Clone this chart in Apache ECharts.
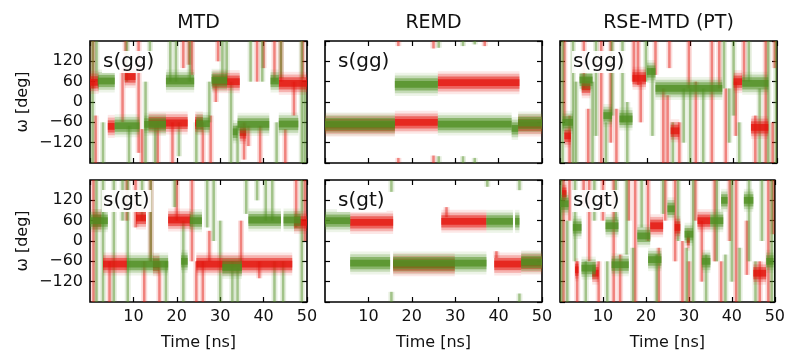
<!DOCTYPE html>
<html><head><meta charset="utf-8">
<script src="https://cdn.jsdelivr.net/npm/echarts@6/dist/echarts.min.js"></script>
<style>html,body{margin:0;padding:0;background:#fff}#c{width:788px;height:353px}</style>
</head><body><div id="c"></div>
<script>
// ---- labels / ticks ----
const panelTitles = ['MTD', 'REMD', 'RSE-MTD (PT)'];
const rowLabels = ['s(gg)', 's(gt)'];
const xTicks = [0, 10, 20, 30, 40, 50];
const yTicks = [-180, -120, -60, 0, 60, 120, 180];

// ---- data: bands [t0 (ns), t1 (ns), omega centre (deg)], streaks [t (ns), omega a, omega b] ----
// MTD s(gg)
const mtdGgRedBands = [[0,2,58],[4.1,5.7,-72],[8,10.5,75],[13.5,22.5,-62],[24.2,26,-62],[28.2,34.5,60],[34.5,36,-90],[43.5,50,55]];
const mtdGgGreenBands = [[1.8,5.7,62],[5.7,11.4,-70],[12.5,17.5,-66],[17.5,24,62],[24.5,27.6,-64],[28,31.6,64],[32.9,34,-88],[34,41.3,-66],[41.6,43.5,62],[43.5,48,-65]];
const mtdGgRedStreaks = [[0.7,180,40],[1.3,-40,-180],[7.5,100,-60],[8.2,180,90],[11.2,180,-150],[12,-80,-180],[15.6,-60,-180],[19,-60,-180],[21.5,180,100],[22.8,180,110],[23.5,180,80],[26,-60,-180],[27.8,-40,-180],[29,60,0],[29.5,180,120],[35.5,-60,-170],[36.5,-70,-130],[38.5,180,60],[39.2,-70,-180],[40,180,100],[42.5,180,60],[44,180,60],[45,-80,-180],[47,60,-40],[49,180,70]];
const mtdGgGreenStreaks = [[0.6,180,-180],[1.5,180,60],[3,-60,-180],[8.5,180,60],[9,-70,-180],[12.8,60,-180],[13.8,180,110],[15,-70,-180],[18.5,180,60],[19.8,180,60],[20.5,-60,-160],[23,180,60],[24.5,-60,-180],[27.5,60,-60],[30.5,180,60],[31.5,180,60],[32.5,60,-180],[34,-70,-180],[37,180,60],[39.7,180,60],[43,-60,-180],[44,180,70],[48.8,180,-180],[49.5,60,-180]];
// MTD s(gt)
const mtdGtRedBands = [[0.7,2.6,60],[3,8.5,-68],[10.6,12.9,68],[14.5,16,-70],[18,23.2,62],[24.5,46.6,-68],[47,50,55]];
const mtdGtGreenBands = [[0,4.1,60],[8.5,18,-68],[21,22.5,-60],[23,25.8,60],[30.5,35,-78],[36.5,44,62],[44.6,48.5,62]];
const mtdGtRedStreaks = [[0.8,180,-180],[4.5,-60,-180],[8.5,180,60],[10.5,180,40],[12.5,-60,-180],[14,180,-60],[16,-60,-180],[20,180,60],[23.5,180,-60],[24.5,-60,-180],[26,-60,-180],[27.5,30,-60],[34.8,60,-60],[39,-60,-110],[47.5,180,40],[49.5,180,0]];
const mtdGtGreenStreaks = [[1.5,180,-180],[3,180,-180],[5.5,180,-180],[7.5,180,60],[8.7,180,-180],[12,180,60],[14,-60,180],[17.5,-60,-180],[19.5,180,100],[21.5,-180,60],[27,180,40],[28.5,180,0],[30,60,-180],[32.8,-60,-180],[34,-80,-180],[36,180,80],[38.5,180,120],[40.5,180,60],[42,180,60],[42.5,-60,-180],[44.5,-60,-180],[48.8,180,-180]];
// REMD s(gg)
const remdGgRedBands = [[0,16.1,-68],[16.1,26,-60],[26,44.8,57],[44.5,50,-68]];
const remdGgGreenBands = [[0,16.1,-65],[16.1,26,52],[26,43,-65],[43,44.5,-78],[44.5,50,-62]];
const remdGgRedStreaks = [[16.9,180,165],[16.9,-165,-180],[25,180,158],[25,-158,-180],[36.8,180,165]];
const remdGgGreenStreaks = [[26.2,180,160],[26.2,-160,-180],[31.8,180,165],[31.8,-160,-180],[34.5,180,170],[34.5,-165,-180]];
// REMD s(gt)
const remdGtRedBands = [[5.8,15.7,55],[15.7,29.9,-70],[26.8,37.2,58],[39,45.2,-68],[45.2,50,-65]];
const remdGtGreenBands = [[0,5.8,60],[5.8,15,-65],[15.7,37.2,-65],[37.2,43.3,58],[43.8,44.8,58],[45.2,50,-62]];
const remdGtRedStreaks = [[28,100,70],[39.5,-30,-50]];
const remdGtGreenStreaks = [[15.3,180,145],[15.3,-150,-180],[37.4,180,160],[44.8,180,150],[44.8,-155,-180]];
// RSE-MTD (PT) s(gg)
const rseGgRedBands = [[1,2.5,-100],[5,7,45],[16.7,19.8,70],[25.5,27.5,-85],[40,42,60],[44,48,-75]];
const rseGgGreenBands = [[0.6,3,-60],[4.5,7.5,65],[10,12,-40],[13.7,16.7,-50],[20,22,90],[22,37.4,40],[42,48,55]];
const rseGgRedStreaks = [[1,180,-60],[2.2,-40,-180],[5.5,180,40],[6.5,-20,-180],[9.5,180,-180],[11.7,180,-120],[13,-20,-180],[17,180,60],[18,180,50],[18.6,60,-60],[22,180,80],[23.8,40,-180],[24.8,20,-180],[25.2,180,100],[27.5,-60,-180],[29.7,180,40],[31.3,60,-180],[35,180,-180],[36.7,180,40],[38.2,40,-180],[40.5,60,-100],[42.4,180,60],[45,-40,-180],[47.4,180,-180],[49,-60,-180],[49.5,180,100]];
const rseGgGreenStreaks = [[0.6,180,-180],[3,180,-180],[3.7,60,-180],[7.5,60,-180],[8.3,180,-100],[10.6,-60,-180],[12,180,-40],[14.4,180,-60],[15.5,0,-180],[19.8,180,60],[21.3,100,-100],[26,-60,-180],[28.5,40,-120],[30,40,-180],[33,40,-180],[37.8,180,40],[39,40,-120],[40,180,-40],[41.3,-60,-180],[43.5,180,60],[46,40,-180],[48,180,-180],[49.8,180,-180]];
// RSE-MTD (PT) s(gt)
const rseGtRedBands = [[0.5,1.5,140],[3.5,4.3,-85],[7.5,9,-95],[21,24,45],[26.7,28,40],[29.5,30.2,5],[32,35,60],[45,48,-95]];
const rseGtGreenBands = [[0,2,110],[3,5,40],[5,8.3,-80],[10.6,13.6,45],[12,16,-70],[18,21,15],[20.5,23.6,-55],[25,26.7,95],[29,31,20],[33,35,-60],[35,38,60],[37.5,39,120],[42.8,45,120],[48,49.7,-60]];
const rseGtRedStreaks = [[0.8,180,-180],[2.2,180,60],[4,-60,-180],[5.5,180,100],[6.8,180,-60],[9,-60,-180],[10,180,60],[12.5,180,-180],[14,-40,-180],[16,180,60],[17.5,180,-180],[20.5,180,0],[23,-20,-180],[24.5,180,60],[26.8,180,-60],[28.5,0,-180],[30,-60,-180],[31.5,180,60],[33,60,-120],[36,180,-60],[37.5,-60,-180],[39.5,180,0],[41,180,-180],[43.5,60,-100],[46.5,-60,-180],[48.5,180,-180],[49.6,180,20]];
const rseGtGreenStreaks = [[0.3,180,-180],[1.7,60,-180],[3.5,180,-60],[6,-60,-180],[8,180,60],[11,-60,-180],[13,180,60],[15.5,180,-40],[17,-20,-180],[19,180,40],[22.5,-40,-180],[24,180,80],[27.5,180,0],[29.5,-20,-180],[31,180,-180],[34,-40,-180],[36.5,180,-60],[38.5,-40,-180],[40,180,-120],[41.8,-20,-180],[44,180,-60],[45.5,-60,-180],[47,180,0],[49.3,180,-180]];

const panels = [
  [mtdGgRedBands, mtdGgGreenBands, mtdGgRedStreaks, mtdGgGreenStreaks],
  [remdGgRedBands, remdGgGreenBands, remdGgRedStreaks, remdGgGreenStreaks],
  [rseGgRedBands, rseGgGreenBands, rseGgRedStreaks, rseGgGreenStreaks],
  [mtdGtRedBands, mtdGtGreenBands, mtdGtRedStreaks, mtdGtGreenStreaks],
  [remdGtRedBands, remdGtGreenBands, remdGtRedStreaks, remdGtGreenStreaks],
  [rseGtRedBands, rseGtGreenBands, rseGtRedStreaks, rseGtGreenStreaks]
];

// ---- layout / style ----
const RED = '#e3140c', GREEN = '#4f8f22';
const FONT = 'DejaVu Sans';
const colLeft = [90, 325, 560], colW = 217, rowTop = [41, 180], rowH = 122;

const chart = echarts.init(document.getElementById('c'));
const grid = [], xAxis = [], yAxis = [], series = [], graphic = [];

function clip(r, cs) {
  return echarts.graphic.clipRectByRect(r, {x: cs.x, y: cs.y, width: cs.width, height: cs.height});
}
function bandSeries(g, data, color) {
  return {
    type: 'custom', xAxisIndex: 2*g, yAxisIndex: 2*g, data: data, silent: true, animation: false,
    encode: {x: [0, 1], y: 2},
    renderItem: function (params, api) {
      const t0 = api.value(0), t1 = api.value(1), w = api.value(2), cs = params.coordSys;
      const mk = function (hw, op) {
        const a = api.coord([t0, w + hw]), b = api.coord([t1, w - hw]);
        const r = clip({x: a[0], y: a[1], width: b[0] - a[0], height: b[1] - a[1]}, cs);
        return r ? {type: 'rect', shape: r, style: {fill: color, opacity: op}} : null;
      };
      return {type: 'group', children: [mk(34, 0.1), mk(26, 0.25), mk(18, 0.5), mk(10, 0.75)].filter(Boolean)};
    }
  };
}
function streakSeries(g, data, color) {
  return {
    type: 'custom', xAxisIndex: 2*g, yAxisIndex: 2*g, data: data, silent: true, animation: false,
    encode: {x: 0, y: [1, 2]},
    renderItem: function (params, api) {
      const t = api.value(0), a = api.value(1), b = api.value(2), cs = params.coordSys;
      const p = api.coord([t, a]), q = api.coord([t, b]);
      const y0 = Math.min(p[1], q[1]), h = Math.abs(q[1] - p[1]);
      const mk = function (wd, op) {
        const r = clip({x: p[0] - wd/2, y: y0, width: wd, height: h}, cs);
        return r ? {type: 'rect', shape: r, style: {fill: color, opacity: op}} : null;
      };
      return {type: 'group', children: [mk(6, 0.15), mk(2.5, 0.45)].filter(Boolean)};
    }
  };
}
const minus = v => String(v).replace('-', '\u2212');

for (let row = 0; row < 2; row++) {
  for (let col = 0; col < 3; col++) {
    const g = row*3 + col;
    grid.push({left: colLeft[col], top: rowTop[row], width: colW, height: rowH,
      show: true, borderColor: '#000', borderWidth: 1.6, backgroundColor: '#fff', containLabel: false});
    const tick = {show: true, inside: true, length: 5, lineStyle: {color: '#000', width: 1.2}};
    const line = {show: false, onZero: false};
    xAxis.push({type: 'value', gridIndex: g, min: 0, max: 50, interval: 10, position: 'bottom',
      axisLine: line, axisTick: tick, splitLine: {show: false},
      axisLabel: {show: row === 1, showMinLabel: false, fontFamily: FONT, fontSize: 16, color: '#111', margin: 7,
        formatter: v => (v === 0 ? '' : String(v))},
      name: row === 1 ? 'Time [ns]' : '', nameLocation: 'middle', nameGap: 33,
      nameTextStyle: {fontFamily: FONT, fontSize: 16, color: '#111'}});
    xAxis.push({type: 'value', gridIndex: g, min: 0, max: 50, interval: 10, position: 'top',
      axisLine: line, axisTick: tick, splitLine: {show: false}, axisLabel: {show: false}});
    yAxis.push({type: 'value', gridIndex: g, min: -180, max: 180, interval: 60, position: 'left',
      axisLine: line, axisTick: tick, splitLine: {show: false},
      axisLabel: {show: col === 0, showMinLabel: false, showMaxLabel: false, fontFamily: FONT, fontSize: 16, color: '#111', margin: 7,
        formatter: v => (Math.abs(v) === 180 ? '' : minus(v))},
      name: col === 0 ? '\u03c9 [deg]' : '', nameLocation: 'middle', nameGap: 59,
      nameTextStyle: {fontFamily: FONT, fontSize: 16, color: '#111'}});
    yAxis.push({type: 'value', gridIndex: g, min: -180, max: 180, interval: 60, position: 'right',
      axisLine: line, axisTick: tick, splitLine: {show: false}, axisLabel: {show: false}});

    const d = panels[g];
    series.push(streakSeries(g, d[2], RED));
    series.push(streakSeries(g, d[3], GREEN));
    series.push(bandSeries(g, d[0], RED));
    series.push(bandSeries(g, d[1], GREEN));

    graphic.push({type: 'text', x: colLeft[col] + 12, y: rowTop[row] + 21, z: 100,
      style: {text: rowLabels[row], fontFamily: FONT, fontSize: 20, fill: '#111',
        textVerticalAlign: 'middle', backgroundColor: 'rgba(255,255,255,0.92)', padding: [1, 2, 1, 1]}});
  }
}
panelTitles.forEach((t, col) => {
  graphic.push({type: 'text', x: colLeft[col] + colW/2, y: 23, z: 100,
    style: {text: t, fontFamily: FONT, fontSize: 19, fill: '#111', textAlign: 'center', textVerticalAlign: 'middle'}});
});

chart.setOption({animation: false, backgroundColor: '#fff', grid, xAxis, yAxis, series, graphic});
</script></body></html>
